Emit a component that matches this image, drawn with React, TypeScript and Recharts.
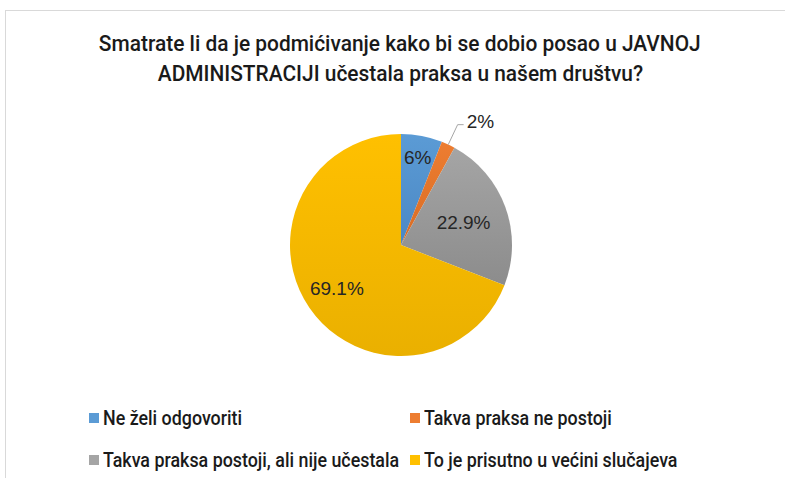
import { PieChart, Pie, Cell, Legend } from "recharts";

const categories = [
  "Ne želi odgovoriti",
  "Takva praksa ne postoji",
  "Takva praksa postoji, ali nije učestala",
  "To je prisutno u većini slučajeva",
];
const shares = [6, 2, 22.9, 69.1];
const shareLabels = ["6%", "2%", "22.9%", "69.1%"];

const TITLE_LINES = [
  "Smatrate li da je podmićivanje kako bi se dobio posao u JAVNOJ",
  "ADMINISTRACIJI učestala praksa u našem društvu?",
];

const COLORS = ["#5b9bd5", "#ed7d31", "#a5a5a5", "#ffc000"];
const DARK = ["#4b88c4", "#d86c24", "#8c8c8c", "#eab000"];
const LABEL_RADIUS = [0.8, 1, 0.6, 0.7];

const NARROW = "Roboto, 'Noto Sans', sans-serif";
const LABEL_FONT = "'Liberation Sans', Arial, sans-serif";

const data = categories.map((name, i) => ({ name, value: shares[i], label: shareLabels[i] }));

const RAD = Math.PI / 180;

function renderLabel(props: any) {
  const { cx, cy, midAngle, outerRadius, index } = props;
  const cos = Math.cos(-midAngle * RAD);
  const sin = Math.sin(-midAngle * RAD);
  if (index === 1) {
    const sx = cx + outerRadius * cos;
    const sy = cy + outerRadius * sin;
    const mx = cx + (outerRadius + 22) * cos;
    const my = cy + (outerRadius + 22) * sin;
    const ex = mx + 6;
    return (
      <g>
        <polyline
          points={`${sx},${sy} ${mx},${my} ${ex},${my}`}
          fill="none"
          stroke="#a6a6a6"
          strokeWidth={1}
        />
        <text x={ex + 3} y={my - 3} dominantBaseline="central" fontSize={19} fill="#262626"
          fontFamily={LABEL_FONT}>
          {data[index].label}
        </text>
      </g>
    );
  }
  const r = outerRadius * LABEL_RADIUS[index];
  return (
    <text
      x={cx + r * cos}
      y={cy + r * sin}
      textAnchor="middle"
      dominantBaseline="central"
      fontSize={19}
      fill="#262626"
      fontFamily={LABEL_FONT}
    >
      {data[index].label}
    </text>
  );
}

function renderLegend() {
  return (
    <div style={{ position: "relative", width: 785, height: 70 }}>
      {data.map((d, i) => (
        <div
          key={i}
          style={{
            position: "absolute",
            left: i % 2 === 0 ? 89 : 410,
            top: Math.floor(i / 2) * 42,
            height: 24,
            display: "flex",
            alignItems: "center",
            whiteSpace: "nowrap",
          }}
        >
          <span
            style={{
              display: "inline-block",
              width: 10,
              height: 10,
              background: COLORS[i],
              marginRight: 4,
            }}
          />
          <span
            style={{
              display: "inline-block",
              fontFamily: NARROW,
              fontWeight: 500,
              fontSize: 21,
              lineHeight: "24px",
              color: "#1a1a1a",
              transform: "scaleX(0.85)",
              transformOrigin: "left center",
            }}
          >
            {d.name}
          </span>
        </div>
      ))}
    </div>
  );
}

export default function App() {
  return (
    <div
      style={{
        position: "absolute",
        left: 0,
        top: 0,
        width: 785,
        height: 478,
        background: "#fff",
        overflow: "hidden",
      }}
    >
      <div
        style={{
          position: "absolute",
          left: 5,
          top: 10,
          width: 800,
          height: 500,
          border: "1px solid #d9d9d9",
        }}
      />
      <div
        style={{
          position: "absolute",
          left: 0,
          top: 29,
          width: 800,
          textAlign: "center",
          fontFamily: NARROW,
          fontWeight: 500,
          fontSize: 22,
          lineHeight: "30px",
          color: "#1a1a1a",
        }}
      >
        {TITLE_LINES.map((t, i) => (
          <div key={i}>
            <span style={{ display: "inline-block", transform: "scaleX(0.95)", whiteSpace: "nowrap" }}>{t}</span>
          </div>
        ))}
      </div>
      <div style={{ position: "absolute", left: 0, top: 0 }}>
        <PieChart width={785} height={478} margin={{ top: 0, right: 0, bottom: 0, left: 0 }}>
          <defs>
            {COLORS.map((c, i) => (
              <linearGradient key={i} id={`g${i}`} x1="0" y1="0" x2="0" y2="1">
                <stop offset="0%" stopColor={c} />
                <stop offset="100%" stopColor={DARK[i]} />
              </linearGradient>
            ))}
          </defs>
          <Pie
            data={data}
            dataKey="value"
            nameKey="name"
            cx={401}
            cy={245}
            outerRadius={111}
            startAngle={90}
            endAngle={-270}
            stroke="none"
            label={renderLabel}
            labelLine={false}
            isAnimationActive={false}
          >
            {data.map((_, i) => (
              <Cell key={i} fill={`url(#g${i})`} />
            ))}
          </Pie>
          <Legend
            content={renderLegend}
            wrapperStyle={{ position: "absolute", left: 0, top: 406, width: 785 }}
          />
        </PieChart>
      </div>
    </div>
  );
}
